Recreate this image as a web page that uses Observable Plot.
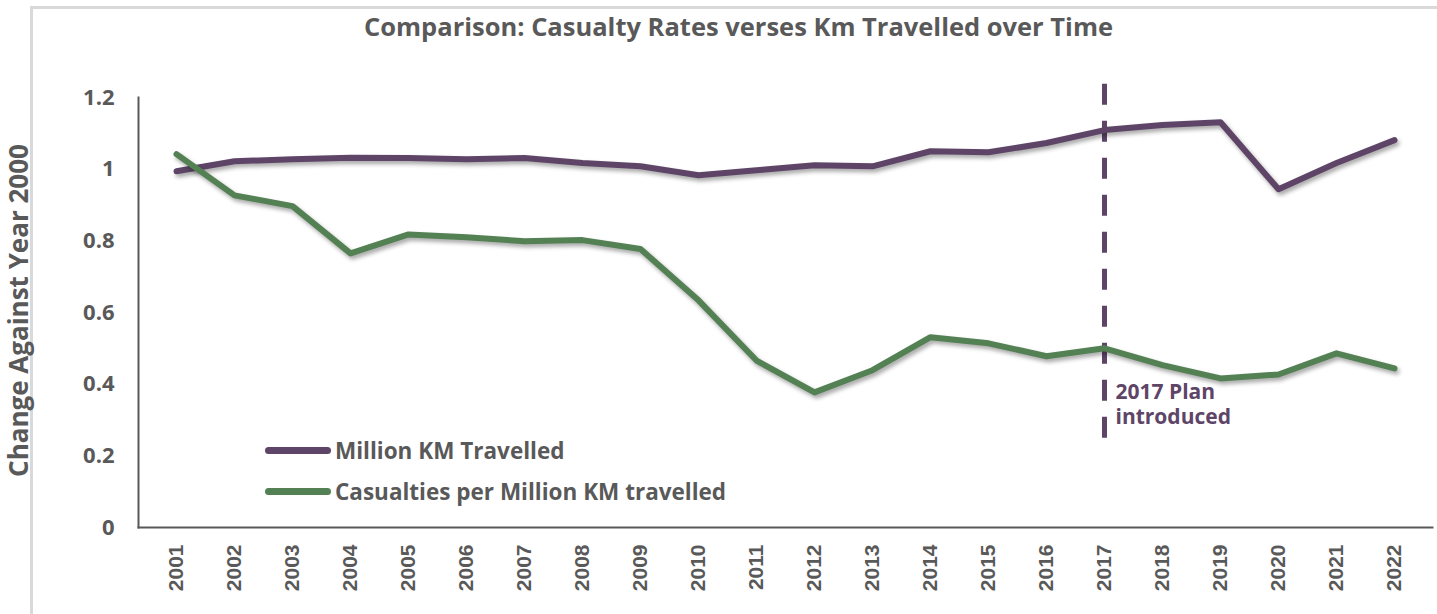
<!DOCTYPE html>
<html>
<head>
<meta charset="utf-8">
<script src="https://cdn.jsdelivr.net/npm/d3@7"></script>
<script src="https://cdn.jsdelivr.net/npm/@observablehq/plot@0.6"></script>
<style>
  html, body { margin: 0; padding: 0; background: #fff; }
  #wrap { position: relative; width: 1437px; height: 614px; overflow: hidden; }
  #frame { position: absolute; left: 30px; top: 6px; width: 1500px; height: 700px;
           border-left: 3px solid #d9d9d9; border-top: 3px solid #d9d9d9; box-sizing: border-box; }
  #chart { position: absolute; left: 0; top: 0; }
  .legend { position: absolute; left: 265px; font-family: "Open Sans", sans-serif; font-weight: 700;
            font-size: 22.5px; color: #595959; display: flex; align-items: center; white-space: nowrap; }
  .legend .sw { width: 66px; height: 7px; border-radius: 4px; margin-right: 4px; }
</style>
</head>
<body>
<div id="wrap">
  <div id="frame"></div>
  <div id="chart"></div>
</div>
<script>
const years = ["2001","2002","2003","2004","2005","2006","2007","2008","2009","2010","2011",
               "2012","2013","2014","2015","2016","2017","2018","2019","2020","2021","2022"];
const kmTravelled = [0.994, 1.022, 1.028, 1.032, 1.031, 1.028, 1.031, 1.017, 1.008, 0.983, 0.997,
                     1.011, 1.008, 1.050, 1.047, 1.073, 1.109, 1.123, 1.131, 0.944, 1.017, 1.081];
const casualties = [1.042, 0.927, 0.897, 0.765, 0.818, 0.810, 0.799, 0.802, 0.777, 0.634, 0.466,
                    0.377, 0.439, 0.531, 0.514, 0.478, 0.500, 0.453, 0.416, 0.427, 0.486, 0.444];
const yTicks = [0, 0.2, 0.4, 0.6, 0.8, 1, 1.2];
const seriesNames = ["Million KM Travelled", "Casualties per Million KM travelled"];
const seriesColors = ["#5e4567", "#548153"];
const planYear = "2017";
const planLines = ["2017 Plan", "introduced"];
const planLineY = [0.378, 0.307];
const titleText = "Comparison: Casualty Rates verses Km Travelled over Time";
const yTitle = "Change Against Year 2000";

const kmData = years.map((y, i) => ({year: y, value: kmTravelled[i]}));
const casData = years.map((y, i) => ({year: y, value: casualties[i]}));
const planData = planLines.map((t, i) => ({text: t, year: planYear, value: planLineY[i]}));

const gray = "#595959";
const plot = Plot.plot({
  width: 1437,
  height: 614,
  marginLeft: 138,
  marginRight: 5,
  marginTop: 97,
  marginBottom: 87,
  style: {background: "transparent", overflow: "visible"},
  x: {type: "point", domain: years, padding: 0.5, label: null},
  y: {domain: [0, 1.2], label: null},
  marks: [
    Plot.axisY({ticks: yTicks, tickSize: 0, tickPadding: 24, label: null,
                tickFormat: d => String(d), fill: gray}),
    Plot.axisX({tickSize: 0, tickPadding: 17, tickRotate: -90, label: null, fill: gray}),
    Plot.frame({anchor: "left", stroke: gray, strokeWidth: 2}),
    Plot.frame({anchor: "bottom", stroke: gray, strokeWidth: 2}),
    Plot.ruleX([planYear], {y1: 0.249, y2: 1.243, stroke: seriesColors[0], strokeWidth: 5,
                strokeDasharray: "21,16"}),
    Plot.line(kmData, {x: "year", y: "value", stroke: seriesColors[0], strokeWidth: 6,
                       strokeLinejoin: "round", strokeLinecap: "round"}),
    Plot.line(casData, {x: "year", y: "value", stroke: seriesColors[1], strokeWidth: 6,
                        strokeLinejoin: "round", strokeLinecap: "round"}),
    Plot.text(planData, {x: "year", y: "value", text: "text", dx: 11, textAnchor: "start",
               fontSize: 21, fontWeight: 700, fontFamily: "Open Sans",
               fill: seriesColors[0]}),
    Plot.text([titleText], {frameAnchor: "top", dx: -47, dy: -80, fontSize: 25.5, fontWeight: 700,
               fontFamily: "Open Sans", fill: gray}),
    Plot.text([yTitle], {frameAnchor: "left", textAnchor: "middle", dx: -119, dy: -2, rotate: -90,
               fontSize: 26, fontWeight: 700, fontFamily: "Open Sans", fill: gray})
  ]
});
const sel = d3.select(plot);
sel.selectAll('g[aria-label="line"]')
  .style("filter", "drop-shadow(2px 3px 2px rgba(0,0,0,0.35))");
sel.selectAll('g[aria-label="y-axis tick label"]')
  .attr("font-size", 22).attr("font-weight", 700).attr("font-family", "Open Sans");
sel.selectAll('g[aria-label="x-axis tick label"]')
  .attr("font-size", 21).attr("font-weight", 700).attr("font-family", "Liberation Sans");
document.getElementById("chart").appendChild(plot);

const wrap = document.getElementById("wrap");
const legendTops = [435, 476];
seriesNames.forEach((name, i) => {
  const d = document.createElement("div");
  d.className = "legend";
  d.style.top = legendTops[i] + "px";
  const sw = document.createElement("div");
  sw.className = "sw";
  sw.style.background = seriesColors[i];
  d.appendChild(sw);
  const t = document.createElement("span");
  t.textContent = name;
  d.appendChild(t);
  wrap.appendChild(d);
});
</script>
</body>
</html>
